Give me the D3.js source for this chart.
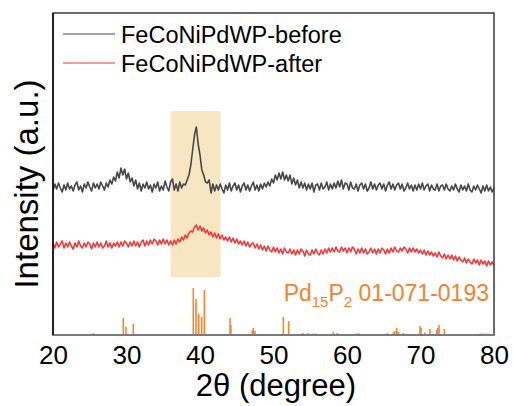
<!DOCTYPE html>
<html>
<head>
<meta charset="utf-8">
<script src="https://cdn.jsdelivr.net/npm/d3@7/dist/d3.min.js"></script>
<style>
  html, body { margin: 0; padding: 0; background: #fff; }
  svg { display: block; font-family: Arial, "Liberation Sans", sans-serif; }
</style>
</head>
<body>
<svg id="chart" width="514" height="406"></svg>
<script>
// 2θ scan: 20° to 80°, 0.25° step
const twoThetaStart = 20;
const twoThetaStep = 0.25;

// FeCoNiPdWP-before (offset trace, a.u.)
const beforeCounts = [
  144,151,146,152, 147,143,150,145, 152,146,149,144, 150,153,145,149,
  143,151,147,153, 148,144,152,147, 151,146,153,149, 145,152,148,155,
  151,158,154,163, 157,167,160,166, 156,162,153,157, 149,155,146,152,
  144,151,147,153, 146,150,143,151, 147,153,144,149, 145,154,148,144,
  153,156,145,151, 144,153,147,151, 150,155,160,170, 185,200,208,191,
  180,165,160,153, 152,155,142,151, 144,150,145,151, 146,142,150,145,
  152,144,149,152, 145,150,143,149, 152,145,150,144, 149,153,145,150,
  144,151,146,152, 148,153,149,156, 152,160,155,162, 156,163,155,160,
  154,160,151,157, 150,155,147,153, 147,152,145,151, 146,152,143,150,
  151,145,152,146, 148,153,145,151, 146,152,147,154, 148,155,146,152,
  151,145,153,147, 146,151,144,150, 152,146,151,144, 147,153,146,151,
  145,150,152,146, 151,144,150,153, 146,151,145,150, 152,146,151,144,
  147,152,146,150, 144,150,145,151, 146,152,145,149, 151,144,150,146,
  145,151,144,149, 150,145,151,146, 144,149,145,151, 146,143,150,145,
  149,144,151,145, 143,149,145,150, 146,142,149,144, 150,144,148,143,
  147
];

// FeCoNiPdWP-after (offset trace, a.u.)
const afterCounts = [
  92,87,93,88, 91,94,87,92, 88,93,89,86, 92,88,94,89,
  87,92,88,93, 91,86,92,88, 93,88,92,87, 89,94,88,92,
  87,92,89,93, 88,93,89,94, 92,88,93,89, 94,89,93,88,
  93,95,89,94, 90,95,91,96, 94,90,95,91, 96,91,95,90,
  94,90,95,91, 96,93,98,95, 100,97,102,104, 103,108,110,105,
  109,104,107,102, 105,100,103,98, 102,97,101,96, 100,95,98,94,
  98,93,97,92, 96,91,94,90, 94,89,93,88, 91,92,87,91,
  86,90,85,89, 84,89,85,83, 88,83,87,82, 86,81,87,83,
  82,86,81,85, 80,85,81,86, 84,79,85,81, 80,85,81,86,
  82,80,85,81, 86,82,87,83, 87,83,88,84, 83,88,84,87,
  82,87,83,88, 86,81,86,82, 87,82,86,81, 83,87,82,86,
  81,86,82,87, 85,81,86,82, 87,83,88,84, 83,87,84,88,
  86,82,87,83, 87,83,86,82, 85,81,85,80, 84,80,83,79,
  82,78,83,79, 77,81,76,80, 76,80,75,79, 74,78,75,73,
  77,72,76,73, 71,76,72,75, 70,75,71,74, 69,74,70,73,
  70
];

// Pd15P2 reference pattern (PDF 01-071-0193): positions and relative intensities
const refPositions = [
  25.5, 29.57, 29.93, 30.93, 39.09, 39.46, 39.82, 40.23, 40.59,
  44.08, 44.2, 47.12, 47.26, 47.48, 51.34, 52.06, 53.97, 54.74,
  55.4, 55.77, 58.14, 58.68, 61.2, 61.4, 61.6, 64.26, 65.49,
  66.3, 66.5, 66.76, 66.98, 67.66, 68.3, 69.93, 70.07, 70.6,
  71.29, 72.2, 72.34, 72.52, 73.25, 78.1, 78.4, 78.8, 79.2
];
const refIntensities = [
  2, 17, 8, 11, 47, 36, 21, 18, 45,
  17, 10, 5, 7, 4, 18, 14, 2, 2,
  1.5, 1.5, 3, 2, 1.5, 1.5, 1.5, 1, 2,
  2.5, 4, 7, 3, 2, 1, 9, 7, 2.5,
  6, 5, 7, 10, 6, 1.5, 1.5, 1.5, 1.5
];

// Highlighted 2θ window around the main peak
const bandRange = [36.0, 42.8];
const bandLevels = [58, 224];

const xTicks = [20, 30, 40, 50, 60, 70, 80];
const seriesNames = ["FeCoNiPdWP-before", "FeCoNiPdWP-after"];
const seriesColors = ["#474747", "#EE3B3B"];

const svg = d3.select("#chart");
const plot = { left: 53, right: 494, top: 13, bottom: 335 };

const x = d3.scaleLinear().domain([20, 80]).range([plot.left, plot.right]);
const y = d3.scaleLinear().domain([0, 322]).range([plot.bottom, plot.top]);

const toPoints = arr => arr.map((v, i) => [twoThetaStart + i * twoThetaStep, v]);

// highlight band
svg.append("rect")
  .attr("x", x(bandRange[0]))
  .attr("y", y(bandLevels[1]))
  .attr("width", x(bandRange[1]) - x(bandRange[0]))
  .attr("height", y(bandLevels[0]) - y(bandLevels[1]))
  .attr("rx", 2)
  .attr("fill", "#F8E6C3");

// reference sticks
svg.append("g")
  .selectAll("line")
  .data(refPositions.map((p, i) => [p, refIntensities[i]]))
  .join("line")
  .attr("x1", d => x(d[0]))
  .attr("x2", d => x(d[0]))
  .attr("y1", y(0))
  .attr("y2", d => y(d[1]))
  .attr("stroke", "#F5862E")
  .attr("stroke-width", 1.6);

// scan traces
const line = d3.line().x(d => x(d[0])).y(d => y(d[1]));
[beforeCounts, afterCounts].forEach((arr, k) => {
  svg.append("path")
    .datum(toPoints(arr))
    .attr("d", line)
    .attr("fill", "none")
    .attr("stroke", seriesColors[k])
    .attr("stroke-width", 1.6)
    .attr("stroke-linejoin", "round");
});

// frame
svg.append("rect")
  .attr("x", plot.left).attr("y", plot.top)
  .attr("width", plot.right - plot.left).attr("height", plot.bottom - plot.top)
  .attr("fill", "none").attr("stroke", "#3a3a3a").attr("stroke-width", 1.5);
svg.append("line")
  .attr("x1", plot.left - 0.5).attr("x2", plot.right + 0.5)
  .attr("y1", plot.bottom).attr("y2", plot.bottom)
  .attr("stroke", "#7a7a7a").attr("stroke-width", 2.2);
svg.append("line")
  .attr("x1", plot.left).attr("x2", plot.left)
  .attr("y1", plot.top).attr("y2", plot.bottom)
  .attr("stroke", "#111").attr("stroke-width", 1.6);

// bottom axis labels
const xAxis = d3.axisBottom(x).tickValues(xTicks).tickSize(0).tickPadding(0).tickFormat(d3.format("d"));
const gx = svg.append("g").attr("transform", `translate(0,${plot.bottom})`).call(xAxis);
gx.select(".domain").remove();
gx.selectAll("text")
  .attr("dy", null)
  .attr("y", 29)
  .attr("font-size", 26)
  .attr("font-family", "Arial, 'Liberation Sans', sans-serif")
  .attr("fill", "#000");

// axis titles
svg.append("text")
  .attr("x", 276).attr("y", 396)
  .attr("text-anchor", "middle")
  .attr("font-size", 31)
  .text("2θ (degree)");
svg.append("text")
  .attr("transform", "translate(38,184) rotate(-90)")
  .attr("text-anchor", "middle")
  .attr("font-size", 33)
  .text("Intensity (a.u.)");

// legend
const legend = svg.append("g");
seriesNames.forEach((name, k) => {
  const ly = 34 + k * 29;
  legend.append("line")
    .attr("x1", 63).attr("x2", 115)
    .attr("y1", ly).attr("y2", ly)
    .attr("stroke", seriesColors[k]).attr("stroke-width", 1.1);
  legend.append("text")
    .attr("x", 121).attr("y", ly + 9)
    .attr("font-size", 23.5)
    .text(name);
});

// reference pattern label
const refLabel = svg.append("text")
  .attr("x", 489).attr("y", 301)
  .attr("text-anchor", "end")
  .attr("font-size", 23)
  .attr("fill", "#F5822A");
refLabel.append("tspan").text("Pd");
refLabel.append("tspan").attr("font-size", 15).attr("dy", 6).text("15");
refLabel.append("tspan").attr("dy", -6).text("P");
refLabel.append("tspan").attr("font-size", 15).attr("dy", 6).text("2");
refLabel.append("tspan").attr("dy", -6).text(" 01-071-0193");
</script>
</body>
</html>
